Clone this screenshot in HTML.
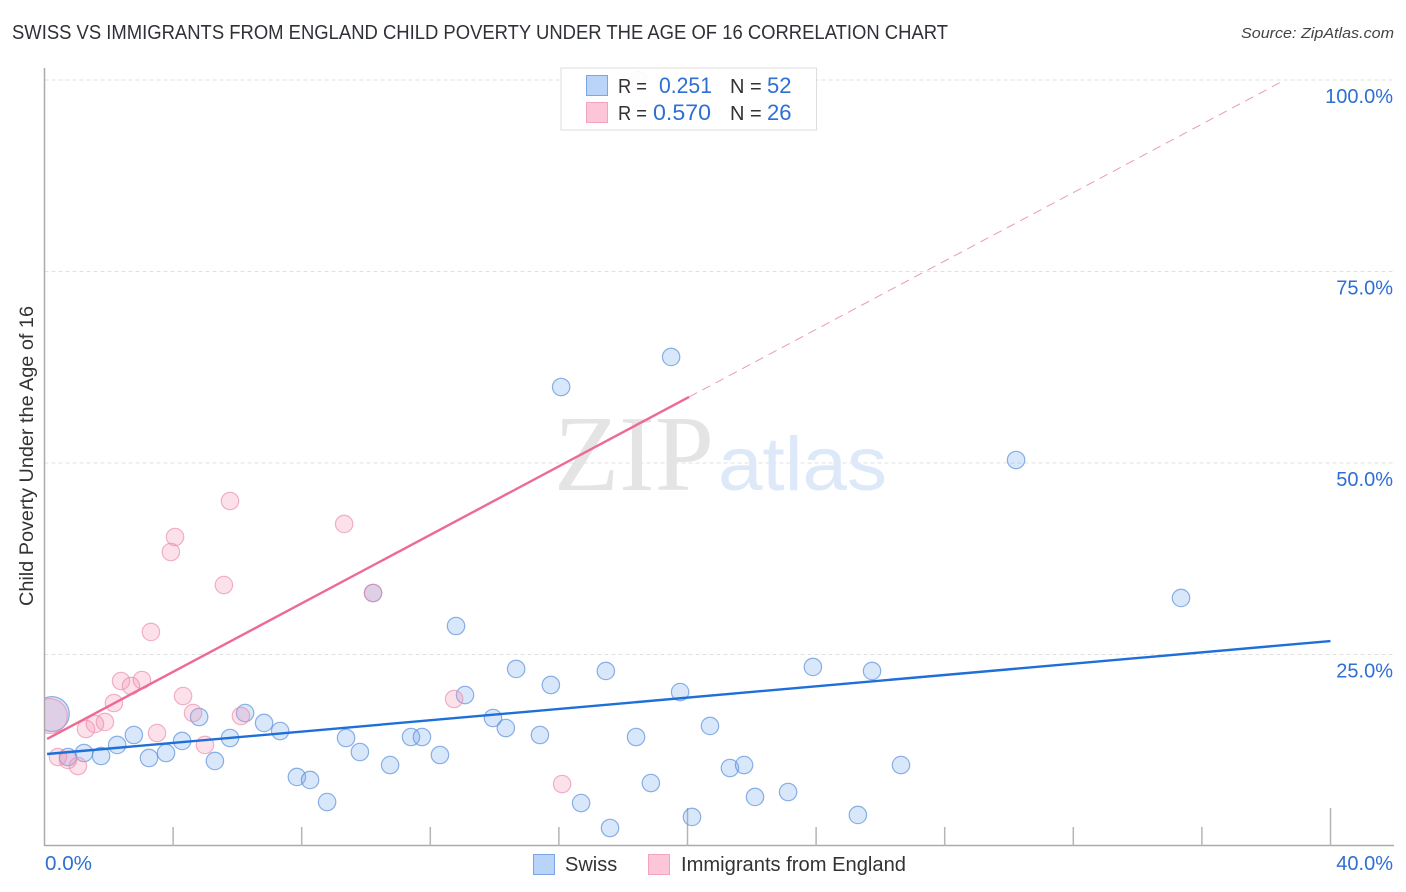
<!DOCTYPE html>
<html lang="en">
<head>
<meta charset="utf-8">
<title>Swiss vs Immigrants from England Child Poverty Correlation Chart</title>
<style>
html,body{margin:0;padding:0;background:#fff;width:1406px;height:892px;overflow:hidden}
svg{display:block;font-family:"Liberation Sans",sans-serif}
</style>
</head>
<body>
<svg id="chart" width="1406" height="892" viewBox="0 0 1406 892" xmlns="http://www.w3.org/2000/svg">
  <defs><clipPath id="plot-clip"><rect x="45" y="60" width="1349" height="786"/></clipPath></defs>
  <text x="12" y="39" font-size="20" fill="#2f3138" textLength="936" lengthAdjust="spacingAndGlyphs">SWISS VS IMMIGRANTS FROM ENGLAND CHILD POVERTY UNDER THE AGE OF 16 CORRELATION CHART</text>
  <text x="1241" y="38" font-size="15" font-style="italic" fill="#444" textLength="153" lengthAdjust="spacingAndGlyphs">Source: ZipAtlas.com</text>
  <g id="grid"></g>
  <g>
    <text x="554" y="490" font-family="'Liberation Serif',serif" font-size="108" fill="#e4e4e4" textLength="160" lengthAdjust="spacingAndGlyphs">ZIP</text>
    <text x="718" y="490" font-size="76" fill="#dde9f9" textLength="169" lengthAdjust="spacingAndGlyphs">atlas</text>
  </g>
  <g id="axes"></g>
  <g id="marks" clip-path="url(#plot-clip)"></g>
  <g id="lines"></g>
  <g id="ticklabels"></g>
  <text transform="translate(33,456) rotate(-90)" font-size="19" fill="#333" text-anchor="middle" textLength="300" lengthAdjust="spacingAndGlyphs">Child Poverty Under the Age of 16</text>

  <g>
    <rect x="561" y="68" width="255.500" height="62" fill="#fff" fill-opacity="0.9" stroke="#ddd" stroke-width="1"/>
    <rect x="586.500" y="75.500" width="21" height="20" fill="#b9d4f8" stroke="#7aa6e3"/>
    <rect x="586.500" y="102.500" width="21" height="20" fill="#fcc6d8" stroke="#f2a3bd"/>
    <text x="618" y="93" font-size="20" fill="#333" textLength="29" lengthAdjust="spacingAndGlyphs">R =</text>
    <text x="659" y="93" font-size="22" fill="#2e6fd2" textLength="53" lengthAdjust="spacingAndGlyphs">0.251</text>
    <text x="730" y="93" font-size="20" fill="#333">N =</text>
    <text x="767" y="93" font-size="22" fill="#2e6fd2">52</text>
    <text x="618" y="120" font-size="20" fill="#333" textLength="29" lengthAdjust="spacingAndGlyphs">R =</text>
    <text x="653" y="120" font-size="22" fill="#2e6fd2" textLength="58" lengthAdjust="spacingAndGlyphs">0.570</text>
    <text x="730" y="120" font-size="20" fill="#333">N =</text>
    <text x="767" y="120" font-size="22" fill="#2e6fd2">26</text>
  </g>

  <g>
    <rect x="533.500" y="854.500" width="21" height="20" fill="#b9d4f8" stroke="#7aa6e3"/>
    <text x="565" y="871" font-size="20" fill="#333">Swiss</text>
    <rect x="648.500" y="854.500" width="21" height="20" fill="#fcc6d8" stroke="#f2a3bd"/>
    <text x="681" y="871" font-size="20" fill="#333" textLength="225" lengthAdjust="spacingAndGlyphs">Immigrants from England</text>
  </g>
</svg>
<script>
const swissX = [16.07,19.49,30.22,35.35,10.22,12.80,14.67,17.46,23.90,25.74,15.75,19.77,13.08,13.95,14.35,20.70,15.41,18.40,9.38,11.40,11.74,9.81,12.30,10.75,7.85,8.26,8.79,16.69,17.59,20.14,18.86,21.32,21.76,22.10,23.13,25.30,26.64,0.23,0.73,1.23,1.76,2.26,2.78,3.25,3.78,4.28,4.81,5.30,5.77,6.24,6.83,7.33];
const swissY = [59.92,63.84,50.39,32.38,33.03,28.72,23.11,22.85,23.37,22.85,21.02,20.10,19.71,16.71,15.40,15.67,14.49,14.23,14.10,14.23,14.23,12.27,11.88,10.57,9.01,8.62,5.74,5.61,2.35,3.79,8.22,10.18,10.57,6.40,7.05,4.05,10.57,17.23,11.62,12.14,11.75,13.19,14.49,11.49,12.14,13.71,16.84,11.10,14.10,17.36,16.06,15.01];
const swissWeight = [1,1,1,1,1,1,1,1,1,1,1,1,1,1,1,1,1,1,1,1,1,1,1,1,1,1,1,1,1,1,1,1,1,1,1,1,1,4,1,1,1,1,1,1,1,1,1,1,1,1,1,1];
const englandX = [18.46,5.77,9.32,4.06,3.93,5.58,10.22,3.31,2.38,3.03,2.69,4.31,2.16,4.62,6.11,1.88,1.57,1.29,3.50,4.99,12.74,16.10,0.42,0.73,1.04,0.17];
const englandY = [100,45.04,42.04,40.34,38.38,34.07,33.03,27.94,21.54,21.67,20.89,19.58,18.67,17.36,16.97,16.19,15.93,15.27,14.75,13.19,19.19,8.09,11.62,11.23,10.44,16.97];
const englandWeight = [1,1,1,1,1,1,1,1,1,1,1,1,1,1,1,1,1,1,1,1,1,1,1,1,1,4];
const swissTrendX = [0.08,40];
const swissTrendY = [12.01,26.76];
const englandTrendX = [0.08,20.05];
const englandTrendY = [13.97,58.62];
const englandDashX = [20.05,38.58];
const englandDashY = [58.62,100];
const yTicks = [25,50,75,100];
const yTickLabels = ['25.0%','50.0%','75.0%','100.0%'];
const xTicks = [4,8,12,16,20,24,28,32,36,40];
const xMajorTicks = [20,40];
const xEndLabels = ['0.0%','40.0%'];

const NS = 'http://www.w3.org/2000/svg';
function xScale(v){ return 44.5 + v * 32.15; }
function yScale(v){ return 846 - v * 7.66; }
function make(tag, parent, attrs){
  const el = document.createElementNS(NS, tag);
  for (const k in attrs) el.setAttribute(k, attrs[k]);
  parent.appendChild(el);
  return el;
}
const grid = document.getElementById('grid');
const axes = document.getElementById('axes');
const marks = document.getElementById('marks');
const lines = document.getElementById('lines');
const labels = document.getElementById('ticklabels');

yTicks.forEach(function(t, i){
  const g = make('line', grid, {x1:44.5, x2:1394, y1:yScale(t), y2:yScale(t), stroke:'#e0e0e0', 'stroke-width':1, 'stroke-dasharray':'4 3'});
  
  
  const lab = make('text', labels, {x:1393, y:yScale(t) + 23, 'font-size':20, fill:'#2e6fd2', 'text-anchor':'end'});
  
  
  lab.textContent = yTickLabels[i];
});

const yAxis = make('line', axes, {x1:44.5, x2:44.5, y1:68, y2:846, stroke:'#aaa', 'stroke-width':1.5});


const xAxis = make('line', axes, {x1:44, x2:1394, y1:845.5, y2:845.5, stroke:'#aaa', 'stroke-width':1.5});


xTicks.forEach(function(t){
  const top = xMajorTicks.indexOf(t) >= 0 ? 808 : 827;
  const tick = make('line', axes, {x1:xScale(t), x2:xScale(t), y1:top, y2:846, stroke:'#b5b5b5', 'stroke-width':1.5});
  
  
});

const xLabelLeft = make('text', labels, {x:45, y:870, 'font-size':20, fill:'#2e6fd2', textLength:47, lengthAdjust:'spacingAndGlyphs'});


xLabelLeft.textContent = xEndLabels[0];
const xLabelRight = make('text', labels, {x:1393, y:870, 'font-size':20, fill:'#2e6fd2', 'text-anchor':'end'});


xLabelRight.textContent = xEndLabels[1];

swissX.forEach(function(v, i){
  const c = make('circle', marks, {cx:xScale(v), cy:yScale(swissY[i]), r:8.7 * Math.sqrt(swissWeight[i]), fill:'#6fa5ec', 'fill-opacity':0.27, stroke:'#5c90dc', 'stroke-opacity':0.7, 'stroke-width':1.2});
  
  
});
englandX.forEach(function(v, i){
  const c = make('circle', marks, {cx:xScale(v), cy:yScale(englandY[i]), r:8.7 * Math.sqrt(englandWeight[i]), fill:'#f48fb1', 'fill-opacity':0.27, stroke:'#ea8aa9', 'stroke-opacity':0.65, 'stroke-width':1.2});
  
  
});

const swissLine = make('line', lines, {x1:xScale(swissTrendX[0]), y1:yScale(swissTrendY[0]), x2:xScale(swissTrendX[1]), y2:yScale(swissTrendY[1]), stroke:'#1f6fd8', 'stroke-width':2.4});


const englandLine = make('line', lines, {x1:xScale(englandTrendX[0]), y1:yScale(englandTrendY[0]), x2:xScale(englandTrendX[1]), y2:yScale(englandTrendY[1]), stroke:'#ec6a94', 'stroke-width':2.4});


const englandDash = make('line', lines, {x1:xScale(englandDashX[0]), y1:yScale(englandDashY[0]), x2:xScale(englandDashX[1]), y2:yScale(englandDashY[1]), stroke:'#eb9ab4', 'stroke-width':1, 'stroke-dasharray':'9 6'});


</script>
</body>
</html>
